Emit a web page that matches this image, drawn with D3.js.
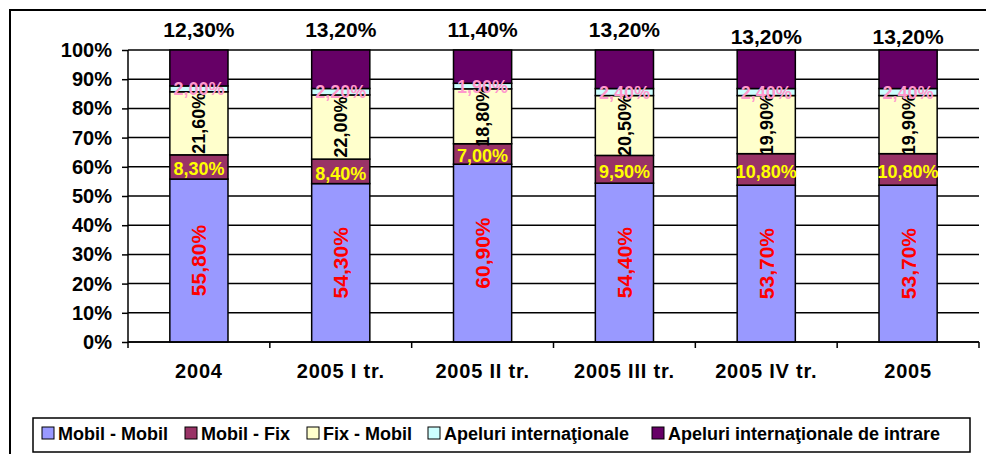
<!DOCTYPE html>
<html>
<head>
<meta charset="utf-8">
<script src="https://cdn.jsdelivr.net/npm/d3@7"></script>
<style>
  body { margin: 0; background: #fff; }
  svg text { font-family: "Liberation Sans", Arial, sans-serif; font-weight: bold; }
</style>
</head>
<body>
<div class="container"></div>
<script>
const categories = ['2004', '2005 I tr.', '2005 II tr.', '2005 III tr.', '2005 IV tr.', '2005'];
const seriesNames = ['Mobil - Mobil', 'Mobil - Fix', 'Fix - Mobil', 'Apeluri internaţionale', 'Apeluri internaţionale de intrare'];
const mobilMobil = [55.8, 54.3, 60.9, 54.4, 53.7, 53.7];
const mobilFix = [8.3, 8.4, 7.0, 9.5, 10.8, 10.8];
const fixMobil = [21.6, 22.0, 18.8, 20.5, 19.9, 19.9];
const apeluriInt = [2.0, 2.2, 1.9, 2.4, 2.4, 2.4];
const apeluriIntrare = [12.3, 13.2, 11.4, 13.2, 13.2, 13.2];
const yTicks = [0, 0.1, 0.2, 0.3, 0.4, 0.5, 0.6, 0.7, 0.8, 0.9, 1];

const colors = ['#9999FF', '#993366', '#FFFFCC', '#CCFFFF', '#660066'];

var display = function () {
  var svg = d3.select('.container').append('svg')
    .attr('width', 986)
    .attr('height', 454)

  // outer frame
  svg.append('rect')
    .attr('x', 10).attr('y', 10)
    .attr('width', 1000).attr('height', 500)
    .style('fill', 'none')
    .attr('stroke', 'black')
    .attr('stroke-width', 2)

  var left = 128, right = 979, top = 50, bottom = 342;

  var table = categories.map(function (c, i) {
    var row = { cat: c };
    row[seriesNames[0]] = mobilMobil[i];
    row[seriesNames[1]] = mobilFix[i];
    row[seriesNames[2]] = fixMobil[i];
    row[seriesNames[3]] = apeluriInt[i];
    row[seriesNames[4]] = apeluriIntrare[i];
    return row;
  });

  var stack = d3.stack().keys(seriesNames).offset(d3.stackOffsetExpand);
  var layers = stack(table);

  var x = d3.scaleBand().domain(categories).range([left, right]).paddingInner(0.59).paddingOuter(0.295);
  var y = d3.scaleLinear().domain([0, 1]).range([bottom, top]);

  // gridlines
  svg.append('g').selectAll('line').data(yTicks).enter().append('line')
    .attr('x1', left).attr('x2', right)
    .attr('y1', function (d) { return y(d); })
    .attr('y2', function (d) { return y(d); })
    .attr('stroke', 'black')
    .attr('stroke-width', 1.5)

  // bars
  var groups = svg.append('g').selectAll('g').data(layers).enter().append('g')
    .attr('fill', function (d, i) { return colors[i]; })
  groups.selectAll('rect').data(function (d) { return d; }).enter().append('rect')
    .attr('x', function (d) { return x(d.data.cat); })
    .attr('y', function (d) { return y(d[1]); })
    .attr('width', x.bandwidth())
    .attr('height', function (d) { return y(d[0]) - y(d[1]); })
    .attr('stroke', 'black')
    .attr('stroke-width', 1.5)

  var fmt = function (v) { return v.toFixed(2).replace('.', ',') + '%'; };
  var cx = function (d) { return x(d.data.cat) + x.bandwidth() / 2; };
  var cy = function (d) { return (y(d[0]) + y(d[1])) / 2; };

  // Mobil - Mobil labels (rotated, red)
  svg.append('g').selectAll('text').data(layers[0]).enter().append('text')
    .attr('transform', function (d) { return 'translate(' + cx(d) + ',' + cy(d) + ') rotate(-90)'; })
    .attr('text-anchor', 'middle')
    .attr('dy', '0.36em')
    .attr('fill', '#FF0000')
    .style('font-size', '21px')
    .text(function (d, i) { return fmt(mobilMobil[i]); })

  // Mobil - Fix labels (yellow)
  svg.append('g').selectAll('text').data(layers[1]).enter().append('text')
    .attr('x', cx)
    .attr('y', function (d) { return cy(d) + 2; })
    .attr('text-anchor', 'middle')
    .attr('dy', '0.36em')
    .attr('fill', '#FFFF00')
    .style('font-size', '18px')
    .text(function (d, i) { return fmt(mobilFix[i]); })

  // Fix - Mobil labels (rotated, black)
  svg.append('g').selectAll('text').data(layers[2]).enter().append('text')
    .attr('transform', function (d) { return 'translate(' + cx(d) + ',' + cy(d) + ') rotate(-90)'; })
    .attr('text-anchor', 'middle')
    .attr('dy', '0.36em')
    .attr('fill', 'black')
    .style('font-size', '18px')
    .text(function (d, i) { return fmt(fixMobil[i]); })

  // Apeluri internationale labels (pink)
  svg.append('g').selectAll('text').data(layers[3]).enter().append('text')
    .attr('x', cx)
    .attr('y', cy)
    .attr('text-anchor', 'middle')
    .attr('dy', '0.36em')
    .attr('fill', '#FF99CC')
    .style('font-size', '18px')
    .text(function (d, i) { return fmt(apeluriInt[i]); })

  // Apeluri de intrare labels (above bars)
  svg.append('g').selectAll('text').data(layers[4]).enter().append('text')
    .attr('x', cx)
    .attr('y', function (d, i) { return i < 4 ? 37 : 44; })
    .attr('text-anchor', 'middle')
    .attr('fill', 'black')
    .style('font-size', '21px')
    .text(function (d, i) { return fmt(apeluriIntrare[i]); })

  // y axis
  var yAxis = svg.append('g')
    .attr('transform', 'translate(' + left + ',0)')
    .call(d3.axisLeft(y).tickValues(yTicks).tickFormat(d3.format('.0%')).tickSize(6).tickPadding(10))
  yAxis.select('.domain').attr('stroke-width', 1.5).attr('d', 'M0,' + top + 'V' + bottom)
  yAxis.selectAll('line').attr('stroke-width', 1.5)
  yAxis.selectAll('text').style('font-size', '20px').attr('fill', 'black')

  // x axis
  var xAxis = svg.append('g')
    .attr('transform', 'translate(0,' + bottom + ')')
    .call(d3.axisBottom(x).tickSize(0).tickPadding(22))
  xAxis.select('.domain').attr('stroke-width', 1.5).attr('d', 'M' + left + ',0H' + right)
  xAxis.selectAll('text').style('font-size', '20px').style('letter-spacing', '0.8px').attr('fill', 'black')
  var bounds = categories.map(function (c) { return x(c) - x.step() * x.paddingInner() / 2; }).concat([right]);
  bounds[0] = left;
  xAxis.selectAll('.bound').data(bounds).enter().append('line')
    .attr('class', 'bound')
    .attr('x1', function (d) { return d; }).attr('x2', function (d) { return d; })
    .attr('y1', 0).attr('y2', 6)
    .attr('stroke', 'black')
    .attr('stroke-width', 1.5)

  // legend
  var legend = svg.append('g')
  legend.append('rect')
    .attr('x', 33).attr('y', 418)
    .attr('width', 937).attr('height', 34)
    .style('fill', 'white')
    .attr('stroke', 'black')
    .attr('stroke-width', 1.5)
  var legendX = [42, 185, 307, 428, 652];
  var items = legend.selectAll('g.item').data(seriesNames).enter().append('g')
    .attr('class', 'item')
    .attr('transform', function (d, i) { return 'translate(' + legendX[i] + ',427)'; })
  items.append('rect')
    .attr('width', 12).attr('height', 12)
    .attr('fill', function (d, i) { return colors[i]; })
    .attr('stroke', 'black')
    .attr('stroke-width', 1)
  items.append('text')
    .attr('x', 16).attr('y', 13)
    .style('font-size', '18px')
    .text(function (d) { return d; })
}

window.onload = display;
</script>
</body>
</html>
